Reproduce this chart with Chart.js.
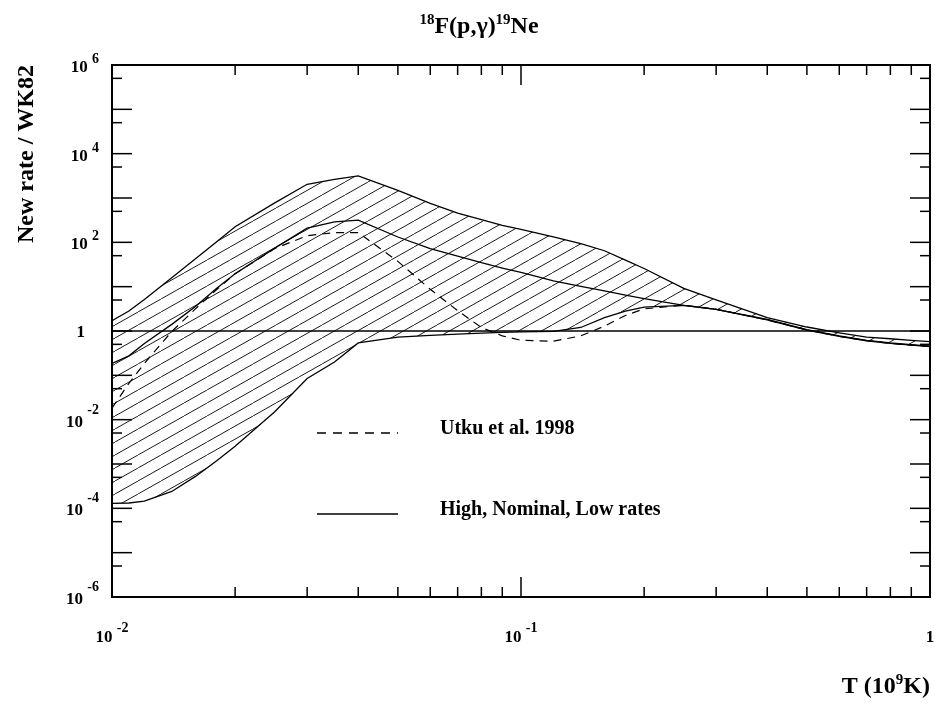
<!DOCTYPE html>
<html>
<head>
<meta charset="utf-8">
<title>18F(p,g)19Ne rate ratio</title>
<script src="https://cdn.jsdelivr.net/npm/chart.js@4.4.0/dist/chart.umd.min.js"></script>
<style>
    html, body { margin: 0; padding: 0; background: #fff; }
    #rateChart { display: block; }
</style>
</head>
<body>
<canvas id="rateChart" width="935" height="703"></canvas>
<script>
// temperature grid, T9
var temps = [0.01, 0.011, 0.012, 0.014, 0.016, 0.018, 0.02, 0.025, 0.03, 0.035, 0.04,
    0.05, 0.06, 0.07, 0.08, 0.09, 0.1, 0.12, 0.14, 0.16, 0.18, 0.2,
    0.25, 0.3, 0.4, 0.5, 0.6, 0.7, 0.8, 0.9, 1.0];

// new rate / WK82
var highRate = [1.70, 2.82, 5.13, 15.8, 42.7, 102, 224, 776, 2040, 2630, 3160,
    1480, 759, 457, 324, 240, 195, 132, 93.3, 64.6, 39.8, 25.7,
    9.12, 5.01, 2.0, 1.23, 0.912, 0.724, 0.668, 0.617, 0.575];
var nominalRate = [0.186, 0.275, 0.525, 1.41, 3.55, 9.12, 19.5, 74.1, 209, 288, 316,
    132, 72.4, 49.0, 34.7, 26.3, 20.9, 13.5, 10.2, 8.04, 6.46, 5.37,
    3.80, 3.09, 1.82, 1.07, 0.776, 0.617, 0.537, 0.490, 0.457];
var lowRate = [1.29e-4, 1.32e-4, 1.45e-4, 2.40e-4, 5.25e-4, 1.17e-3, 2.51e-3, 1.51e-2, 8.51e-2, 0.200, 0.537,
    0.724, 0.794, 0.851, 0.891, 0.933, 0.955, 0.977, 1.20, 2.00, 2.82, 3.47,
    3.80, 3.09, 1.78, 1.05, 0.759, 0.603, 0.525, 0.479, 0.447];
var utkuRate = [0.0182, 0.0661, 0.186, 0.977, 3.16, 8.51, 19.5, 72.4, 141, 166, 166,
    37.2, 8.71, 2.88, 1.20, 0.776, 0.617, 0.589, 0.776, 1.29, 2.24, 3.16,
    3.80, 3.09, 1.78, 1.05, 0.759, 0.603, 0.525, 0.479, 0.447];
var unityT = [0.01, 1.0];
var unityRate = [1, 1];

// axis ticks
var xMajorTicks = [0.01, 0.1, 1];
var xMajorBase = ['10', '10', '1'];
var xMajorExp = ['-2', '-1', ''];
var xMinorTicks = [0.02, 0.03, 0.04, 0.05, 0.06, 0.07, 0.08, 0.09,
    0.2, 0.3, 0.4, 0.5, 0.6, 0.7, 0.8, 0.9];
var yDecadeTicks = [1e-6, 1e-5, 1e-4, 1e-3, 1e-2, 1e-1, 1, 1e1, 1e2, 1e3, 1e4, 1e5, 1e6];
var yHalfTicks = [5e-6, 5e-5, 5e-4, 5e-3, 5e-2, 5e-1, 5, 5e1, 5e2, 5e3, 5e4, 5e5];
var yLabelTicks = [1e6, 1e4, 1e2, 1, 1e-2, 1e-4, 1e-6];
var yLabelBase = ['10', '10', '10', '1', '10', '10', '10'];
var yLabelExp = ['6', '4', '2', '', '-2', '-4', '-6'];

var SERIF = '"Liberation Serif", "Times New Roman", Times, serif';

function toPoints(xArr, yArr) {
    var pts = [];
    for (var i = 0; i < xArr.length; i++) {
        pts.push({x: xArr[i], y: yArr[i]});
    }
    return pts;
}

function makeHatch() {
    var c = document.createElement('canvas');
    c.width = 23;
    c.height = 13;
    var g = c.getContext('2d');
    g.strokeStyle = '#000';
    g.lineWidth = 0.9;
    g.beginPath();
    g.moveTo(-23, 26);
    g.lineTo(46, -13);
    g.stroke();
    return g.createPattern(c, 'repeat');
}

// pieces: [[text, size, rise]]
function drawRich(ctx, pieces, x, baseline, align) {
    var total = 0, widths = [];
    pieces.forEach(function (p) {
        ctx.font = 'bold ' + p[1] + 'px ' + SERIF;
        var w = ctx.measureText(p[0]).width;
        widths.push(w);
        total += w;
    });
    var cx = x;
    if (align == 'center') cx = x - total / 2;
    if (align == 'right') cx = x - total;
    ctx.textAlign = 'left';
    ctx.textBaseline = 'alphabetic';
    pieces.forEach(function (p, i) {
        ctx.font = 'bold ' + p[1] + 'px ' + SERIF;
        ctx.fillText(p[0], cx, baseline - p[2]);
        cx += widths[i];
    });
}

function seg(ctx, x1, y1, x2, y2) {
    ctx.beginPath();
    ctx.moveTo(x1, y1);
    ctx.lineTo(x2, y2);
    ctx.stroke();
}

var framePlugin = {
    id: 'frameAndLabels',
    afterDraw: function (chart) {
        var ctx = chart.ctx;
        var a = chart.chartArea;
        var xs = chart.scales.x, ys = chart.scales.y;
        ctx.save();
        ctx.strokeStyle = '#000';
        ctx.fillStyle = '#000';

        // frame
        ctx.lineWidth = 2;
        ctx.strokeRect(a.left, a.top, a.right - a.left, a.bottom - a.top);

        // ticks, pointing inward
        ctx.lineWidth = 1.5;
        xMinorTicks.forEach(function (v) {
            var px = xs.getPixelForValue(v);
            seg(ctx, px, a.bottom, px, a.bottom - 10);
            seg(ctx, px, a.top, px, a.top + 10);
        });
        xMajorTicks.forEach(function (v) {
            var px = xs.getPixelForValue(v);
            seg(ctx, px, a.bottom, px, a.bottom - 20);
            seg(ctx, px, a.top, px, a.top + 20);
        });
        yDecadeTicks.forEach(function (v) {
            var py = ys.getPixelForValue(v);
            seg(ctx, a.left, py, a.left + 20, py);
            seg(ctx, a.right, py, a.right - 20, py);
        });
        yHalfTicks.forEach(function (v) {
            var py = ys.getPixelForValue(v);
            seg(ctx, a.left, py, a.left + 10, py);
            seg(ctx, a.right, py, a.right - 10, py);
        });

        // y tick labels
        yLabelTicks.forEach(function (v, i) {
            var py = ys.getPixelForValue(v);
            var exp = yLabelExp[i];
            if (exp === '') {
                drawRich(ctx, [[yLabelBase[i], 17, 0]], 85, py + 6, 'right');
            } else {
                var rise = exp.charAt(0) == '-' ? 13 : 9;
                drawRich(ctx, [[yLabelBase[i] + ' ', 17, 0], [exp, 14, rise]], 99, py + 7, 'right');
            }
        });

        // x tick labels
        xMajorTicks.forEach(function (v, i) {
            var px = xs.getPixelForValue(v);
            if (xMajorExp[i] === '') {
                drawRich(ctx, [[xMajorBase[i], 17, 0]], px, 642, 'center');
            } else {
                drawRich(ctx, [[xMajorBase[i] + ' ', 17, 0], [xMajorExp[i], 14, 10]], px, 642, 'center');
            }
        });

        // titles
        drawRich(ctx, [['18', 15, 9], ['F(p,\u03b3)', 24, 0], ['19', 15, 9], ['Ne', 24, 0]], 479, 33, 'center');
        drawRich(ctx, [['T (10', 24, 0], ['9', 15, 9], ['K)', 24, 0]], 930, 693, 'right');

        ctx.save();
        ctx.translate(33, 154);
        ctx.rotate(-Math.PI / 2);
        drawRich(ctx, [['New rate / WK82', 24, 0]], 0, 0, 'center');
        ctx.restore();

        // legend
        ctx.lineWidth = 1.3;
        ctx.setLineDash([9, 7]);
        seg(ctx, 317, 433, 398, 433);
        ctx.setLineDash([]);
        seg(ctx, 317, 514, 398, 514);
        drawRich(ctx, [['Utku et al. 1998', 20, 0]], 440, 434, 'left');
        drawRich(ctx, [['High, Nominal, Low rates', 20, 0]], 440, 515, 'left');

        ctx.restore();
    }
};

var hatch = makeHatch();

var lineBase = {
    borderColor: '#000',
    borderWidth: 1.3,
    pointRadius: 0,
    tension: 0,
    fill: false
};

new Chart(document.getElementById('rateChart').getContext('2d'), {
    type: 'line',
    data: {
        datasets: [
            Object.assign({}, lineBase, {label: 'High', data: toPoints(temps, highRate), fill: 2, backgroundColor: hatch}),
            Object.assign({}, lineBase, {label: 'Nominal', data: toPoints(temps, nominalRate)}),
            Object.assign({}, lineBase, {label: 'Low', data: toPoints(temps, lowRate)}),
            Object.assign({}, lineBase, {label: 'Utku et al. 1998', data: toPoints(temps, utkuRate), borderWidth: 1.2, borderDash: [8, 6]}),
            Object.assign({}, lineBase, {label: 'unity', data: toPoints(unityT, unityRate)})
        ]
    },
    options: {
        responsive: false,
        animation: false,
        events: [],
        layout: {padding: {left: 112, right: 5, top: 65, bottom: 106}},
        scales: {
            x: {type: 'logarithmic', min: 0.01, max: 1, display: false},
            y: {type: 'logarithmic', min: 1e-6, max: 1e6, display: false}
        },
        plugins: {
            legend: {display: false},
            title: {display: false},
            tooltip: {enabled: false}
        }
    },
    plugins: [framePlugin]
});
</script>
</body>
</html>
